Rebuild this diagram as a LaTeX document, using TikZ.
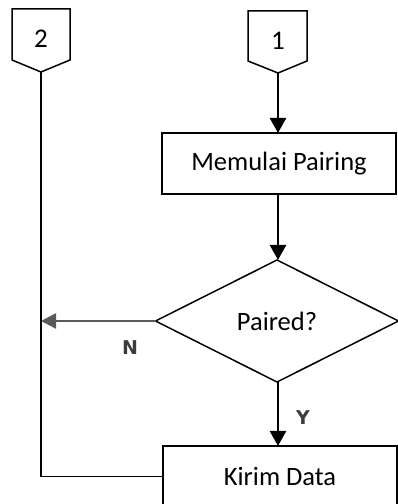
\documentclass[tikz,border=0pt]{standalone}
\usepackage{fontspec}
\setmainfont{Carlito}
\newfontfamily\lblfont{DejaVu Sans}
\usetikzlibrary{arrows.meta,shapes.geometric}
\definecolor{ngray}{RGB}{90,90,90}
\definecolor{lblgray}{RGB}{60,60,60}
\tikzset{
  procbox/.style={draw, line width=1.5pt, minimum width=234pt, minimum height=61pt, inner sep=0pt, outer sep=0pt, font=\fontsize{26.5}{30}\selectfont},
  decbox/.style={draw, diamond, line width=1.5pt, minimum width=243pt, minimum height=122pt, inner sep=0pt, outer sep=0pt, font=\fontsize{26.5}{30}\selectfont},
  conntext/.style={font=\fontsize{27}{30}\selectfont, inner sep=0pt},
  connshape/.style={line width=1.5pt, line join=miter},
  flow/.style={line width=2.5pt, -{Triangle[length=15pt,width=16pt]}},
  nflow/.style={line width=2.5pt, draw=ngray, -{Triangle[length=15pt,width=15pt]}},
  thin/.style={line width=1.2pt},
  lbl/.style={font=\lblfont\bfseries\fontsize{19}{22}\selectfont, text=lblgray, inner sep=0pt}
}
\begin{document}
\begin{tikzpicture}[x=1pt,y=1pt]
\useasboundingbox (0,0) rectangle (398,504);
\clip (0,0) rectangle (398,504);
% off-page connectors
\draw[connshape] (12,495) -- (70,495) -- (70,444) -- (41,432) -- (12,444) -- cycle;
\node[conntext] (c2) at (41,465) {2};
\coordinate (c2tip) at (41,432);
\draw[connshape] (248,493) -- (307,493) -- (307,443) -- (278,431) -- (248,443) -- cycle;
\node[conntext] (c1) at (278,463) {1};
\coordinate (c1tip) at (278,431);
% process and decision
\node[procbox] (start) at (279,340.5) {Memulai Pairing};
\node[decbox] (dec) at (277,183) {Paired?};
\node[procbox, anchor=north west] (send) at (163,58) {Kirim Data};
\coordinate (nend) at (c2tip |- dec.west);
% connectors
\draw[flow] (c1tip) -- (c1tip |- start.north);
\draw[flow] (start.south -| c1tip) -- (c1tip |- dec.north);
\draw[flow] (dec.south -| c1tip) -- (c1tip |- send.north);
\draw[nflow] (dec.west) -- (nend);
\draw[thin] (c2tip) |- (send.west);
% labels
\node[lbl] (nlbl) at (130,156) {N};
\node[lbl] (ylbl) at (303,86) {Y};
\end{tikzpicture}
\end{document}
